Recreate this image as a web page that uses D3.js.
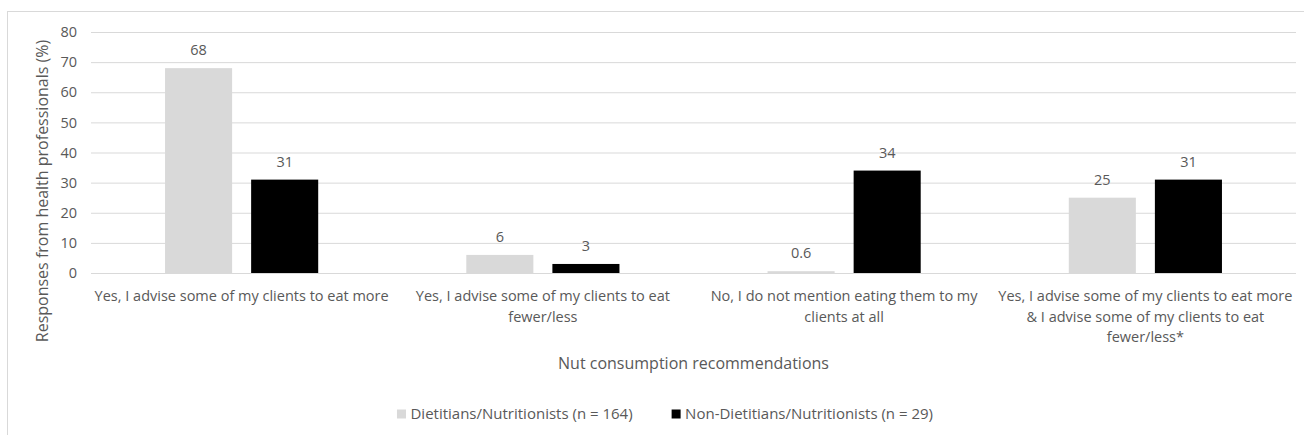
<!DOCTYPE html>
<html>
<head>
<meta charset="utf-8">
<script src="https://cdn.jsdelivr.net/npm/d3@7"></script>
<style>
  html, body { margin: 0; padding: 0; background: #fff; }
  svg { display: block; }
  text { font-family: "Open Sans", "DejaVu Sans", sans-serif; fill: #595959; }
</style>
</head>
<body>
<svg id="chart" width="1304" height="435"></svg>
<script>
// ---- data ----
const categories = [
  "Yes, I advise some of my clients to eat more",
  "Yes, I advise some of my clients to eat\nfewer/less",
  "No, I do not mention eating them to my\nclients at all",
  "Yes, I advise some of my clients to eat more\n& I advise some of my clients to eat\nfewer/less*"
];
const seriesNames = ["Dietitians/Nutritionists (n = 164)", "Non-Dietitians/Nutritionists (n = 29)"];
const dietitians = [68, 6, 0.6, 25];
const nonDietitians = [31, 3, 34, 31];
const valueLabels = [["68", "6", "0.6", "25"], ["31", "3", "34", "31"]];
const yTicks = [0, 10, 20, 30, 40, 50, 60, 70, 80];
const seriesColors = ["#d9d9d9", "#000000"];
const xTitle = "Nut consumption recommendations";
const yTitle = "Responses from health professionals (%)";

// ---- layout ----
const svg = d3.select("#chart");
const plot = { left: 91, right: 1296, top: 32, bottom: 273 };

// chart border (left/top/right visible)
svg.append("rect")
  .attr("x", 7.5).attr("y", 11.5)
  .attr("width", 1304).attr("height", 440)
  .attr("fill", "none").attr("stroke", "#d9d9d9").attr("stroke-width", 1);

const x0 = d3.scaleBand().domain(d3.range(categories.length))
  .range([plot.left, plot.right]).paddingInner(0).paddingOuter(0);
const series = [dietitians, nonDietitians];
const x1 = d3.scaleBand().domain([0, 1])
  .range([0, x0.bandwidth()]).paddingInner(0.221).paddingOuter(0.86);
const y = d3.scaleLinear().domain([0, 80]).range([plot.bottom, plot.top]);

// gridlines + y ticks
const yAxis = d3.axisLeft(y).tickValues(yTicks).tickSize(-(plot.right - plot.left)).tickPadding(14);
const gy = svg.append("g").attr("transform", `translate(${plot.left},0)`).call(yAxis);
gy.select(".domain").remove();
gy.selectAll(".tick line").attr("stroke", "#d9d9d9").attr("stroke-width", 1);
gy.selectAll(".tick text").style("font-size", "14.5px").attr("fill", "#595959");

// bars
const groups = svg.append("g").selectAll("g")
  .data(categories.map((c, i) => i))
  .join("g")
  .attr("transform", i => `translate(${x0(i)},0)`);

groups.selectAll("rect")
  .data(i => series.map((s, k) => ({ k, v: s[i], i })))
  .join("rect")
  .attr("x", d => x1(d.k))
  .attr("width", x1.bandwidth())
  .attr("y", d => y(d.v))
  .attr("height", d => y(0) - y(d.v))
  .attr("fill", d => seriesColors[d.k]);

groups.selectAll("text.val")
  .data(i => series.map((s, k) => ({ k, v: s[i], i })))
  .join("text")
  .attr("class", "val")
  .attr("x", d => x1(d.k) + x1.bandwidth() / 2)
  .attr("y", d => y(d.v) - 13)
  .attr("text-anchor", "middle")
  .style("font-size", "14.5px")
  .text(d => valueLabels[d.k][d.i]);

// category axis line
svg.append("line")
  .attr("x1", plot.left).attr("x2", plot.right)
  .attr("y1", y(0) + 0.5).attr("y2", y(0) + 0.5)
  .attr("stroke", "#d9d9d9");

// category labels
const xAxis = d3.axisBottom(x0).tickSize(0).tickFormat(i => categories[i]);
const gx = svg.append("g").attr("transform", `translate(0,${plot.bottom})`).call(xAxis);
gx.select(".domain").remove();
gx.selectAll(".tick text").each(function(i) {
  const t = d3.select(this);
  const lines = categories[i].split("\n");
  t.text(null).attr("y", 0).attr("dy", null)
    .style("font-size", "14.5px").attr("fill", "#595959");
  lines.forEach((ln, j) => {
    t.append("tspan").attr("x", 0).attr("y", 28 + j * 20.7).text(ln);
  });
});

// axis titles
svg.append("text")
  .attr("x", (plot.left + plot.right) / 2).attr("y", 369)
  .attr("text-anchor", "middle")
  .style("font-size", "16px")
  .text(xTitle);

svg.append("text")
  .attr("transform", `translate(48,191) rotate(-90)`)
  .attr("text-anchor", "middle")
  .style("font-size", "16px")
  .text(yTitle);

// legend
const legend = svg.append("g");
const items = legend.selectAll("g").data(seriesNames).join("g");
items.append("rect").attr("width", 9).attr("height", 9).attr("y", -9.5)
  .attr("fill", (d, k) => seriesColors[k]);
items.append("text").attr("x", 13.5).attr("y", 0)
  .style("font-size", "15px").text(d => d);
const widths = [];
items.each(function() { widths.push(this.getBBox().width); });
const gap = 39;
const total = d3.sum(widths) + gap * (widths.length - 1);
let cx = 665 - total / 2;
items.attr("transform", (d, k) => {
  const tx = cx; cx += widths[k] + gap;
  return `translate(${tx},419)`;
});
</script>
</body>
</html>
